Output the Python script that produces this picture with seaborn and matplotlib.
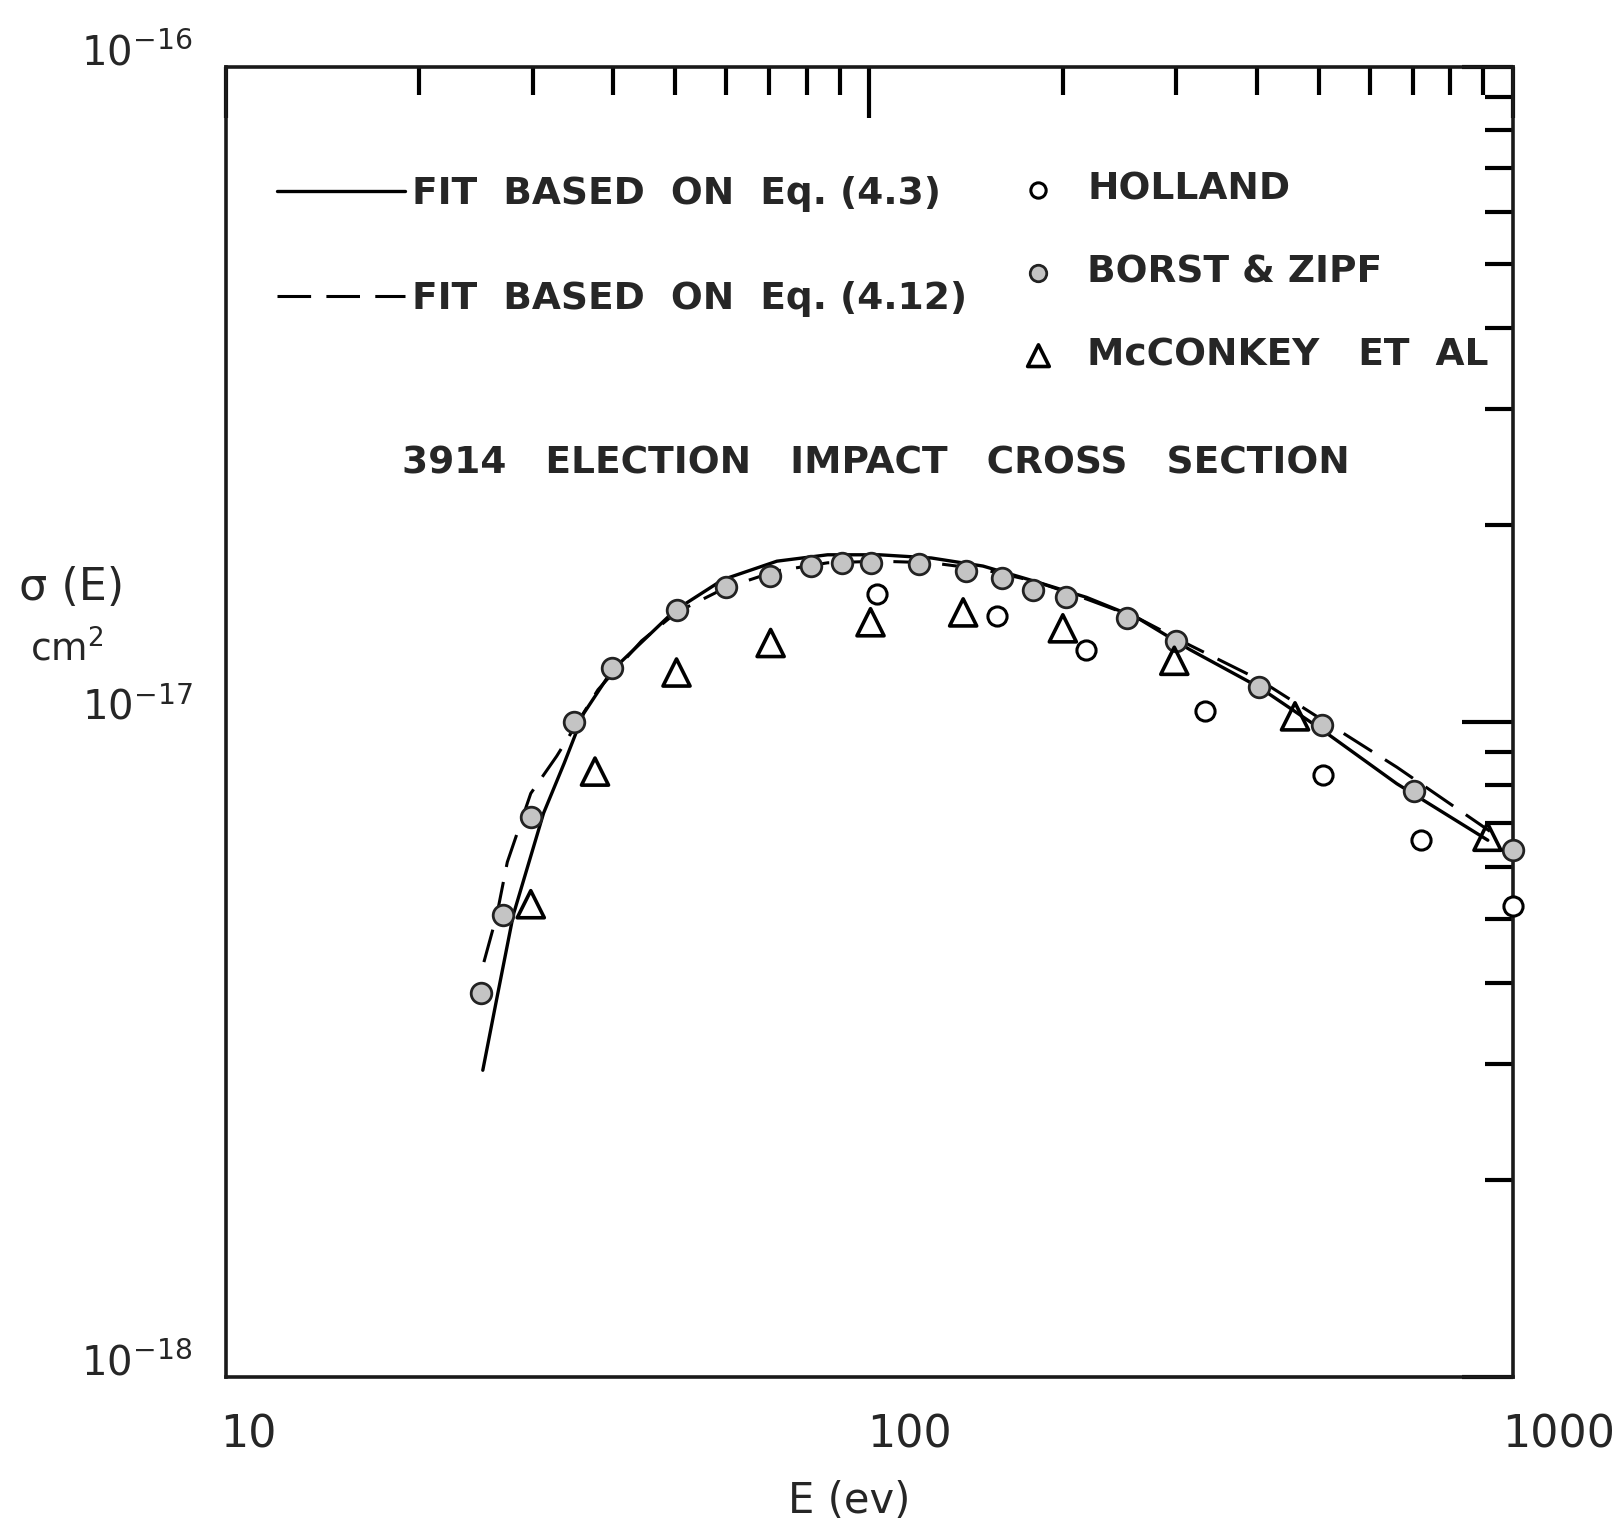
import matplotlib.pyplot as plt
import matplotlib.transforms as mtransforms
import seaborn as sns

# values: energy in ev, cross section in cm^2
fit43_e = [25.1, 26.4, 28.0, 31.2, 33.6, 36.0, 39.9, 49.9, 59.3, 71.9, 86.2, 103.8,
           124.9, 150.3, 180.8, 217.6, 261.8, 315.0, 403.7, 504, 660.7, 915]
fit43_sigma = [2.94e-18, 3.79e-18, 5.08e-18, 7.26e-18, 8.66e-18, 1.03e-17, 1.20e-17,
               1.48e-17, 1.65e-17, 1.76e-17, 1.80e-17, 1.80e-17, 1.78e-17, 1.73e-17,
               1.64e-17, 1.55e-17, 1.44e-17, 1.29e-17, 1.13e-17, 9.75e-18, 8.05e-18, 6.60e-18]

fit412_e = [25.2, 26.4, 27.4, 29.8, 32.7, 37.9, 44.3, 50.2, 59.6, 71.7, 86.2, 103.8,
            125, 150, 181, 218, 262, 315, 404, 504, 661, 922]
fit412_sigma = [4.30e-18, 5.08e-18, 6.11e-18, 7.78e-18, 8.87e-18, 1.12e-17, 1.33e-17,
                1.47e-17, 1.60e-17, 1.70e-17, 1.75e-17, 1.76e-17, 1.75e-17, 1.71e-17,
                1.64e-17, 1.54e-17, 1.44e-17, 1.31e-17, 1.16e-17, 1.01e-17, 8.53e-18, 6.81e-18]

holland_e = [103, 158, 217, 333, 508, 721, 1000]
holland_sigma = [1.57e-17, 1.45e-17, 1.29e-17, 1.04e-17, 8.3e-18, 6.6e-18, 5.23e-18]

borst_e = [24.9, 27.0, 29.8, 34.8, 39.8, 50.2, 60.0, 70.1, 81.1, 90.6, 100.7, 119.5,
           141.6, 161, 180, 202, 252, 300, 404, 505, 703, 1000]
borst_sigma = [3.86e-18, 5.08e-18, 7.16e-18, 1.0e-17, 1.21e-17, 1.48e-17, 1.61e-17,
               1.67e-17, 1.73e-17, 1.75e-17, 1.75e-17, 1.74e-17, 1.70e-17, 1.66e-17,
               1.59e-17, 1.55e-17, 1.44e-17, 1.33e-17, 1.13e-17, 9.9e-18, 7.85e-18, 6.38e-18]

mcconkey_e = [29.8, 37.5, 50.2, 70.3, 100.5, 140, 200, 298, 459, 914]
mcconkey_sigma = [5.27e-18, 8.4e-18, 1.19e-17, 1.32e-17, 1.42e-17, 1.47e-17, 1.39e-17,
                  1.24e-17, 1.02e-17, 6.68e-18]

x_ticks = [10, 100, 1000]
x_tick_labels = ['10', '100', '1000']
y_ticks = [1e-18, 1e-17, 1e-16]
y_tick_labels = [r'$\mathregular{10^{-18}}$', r'$\mathregular{10^{-17}}$', r'$\mathregular{10^{-16}}$']

sns.set_style('white')
plt.rcParams['font.family'] = ['DejaVu Sans']

fig = plt.figure(figsize=(16.23, 15.29), dpi=100)
ax = fig.add_axes([0.139, 0.0994, 0.793, 0.8568])
ax.set_xscale('log')
ax.set_yscale('log')

# fits
sns.lineplot(x=fit43_e, y=fit43_sigma, ax=ax, color='black', lw=2.4,
             estimator=None, sort=False, label='FIT  BASED  ON  Eq. (4.3)')
sns.lineplot(x=fit412_e, y=fit412_sigma, ax=ax, color='black', lw=2.2,
             estimator=None, sort=False, label='FIT  BASED  ON  Eq. (4.12)')
ax.lines[1].set_dashes((11, 5))

# measurements
sns.scatterplot(x=holland_e, y=holland_sigma, ax=ax, marker='o', s=190,
                facecolor='white', edgecolor='black', linewidth=2.2,
                label='HOLLAND', clip_on=False, zorder=4)
sns.scatterplot(x=borst_e, y=borst_sigma, ax=ax, marker='o', s=220,
                facecolor='#c4c4c4', edgecolor='#222222', linewidth=2.0,
                label='BORST & ZIPF', clip_on=False, zorder=4)
sns.scatterplot(x=mcconkey_e, y=mcconkey_sigma, ax=ax, marker='^', s=380,
                facecolor='none', edgecolor='black', linewidth=2.6,
                label='McCONKEY   ET  AL', clip_on=False, zorder=4)

ax.set_xlim(10, 1000)
ax.set_ylim(1e-18, 1e-16)

lettering = {'size': 27, 'weight': 'bold'}
handles, labels = ax.get_legend_handles_labels()
leg1 = ax.legend(handles[:2], labels[:2], loc='upper left', bbox_to_anchor=(0.040, 0.917),
                 frameon=False, prop=lettering, handlelength=3.4, handletextpad=0.2,
                 labelspacing=1.85, borderpad=0, borderaxespad=0)
ax.add_artist(leg1)
ax.legend(handles[2:], labels[2:], loc='upper left', bbox_to_anchor=(0.617, 0.92),
          frameon=False, prop=lettering, handlelength=1.0, handletextpad=0.8,
          labelspacing=1.25, borderpad=0, borderaxespad=0, markerscale=0.8)

ax.text(0.505, 0.697, '3914   ELECTION   IMPACT   CROSS   SECTION', transform=ax.transAxes,
        ha='center', va='center', fontsize=27, fontweight='bold')

# ticks
ax.set_xticks(x_ticks, x_tick_labels)
ax.set_yticks(y_ticks, y_tick_labels)
ax.tick_params(which='both', direction='in', top=True, right=True, color='black')
ax.tick_params(axis='x', which='major', length=37, width=3, pad=26, labelsize=32)
ax.tick_params(axis='y', which='major', length=37, width=3, pad=24, labelsize=29)
ax.tick_params(which='minor', length=20, width=3)
shifts = [0.23, 0.40, 0.46]
for lab, dx in zip(ax.get_xticklabels(), shifts):
    lab.set_transform(lab.get_transform() + mtransforms.ScaledTranslation(dx, 0, fig.dpi_scale_trans))
for lab in ax.get_yticklabels():
    lab.set_transform(lab.get_transform() + mtransforms.ScaledTranslation(0, 0.18, fig.dpi_scale_trans))

for sp in ax.spines.values():
    sp.set_linewidth(2.6)
    sp.set_color('#1a1a1a')

# axis labels
fig.text(72 / 1623, 1 - 588 / 1529, 'σ (E)', ha='center', va='center', fontsize=32)
fig.text(67 / 1623, 1 - 650 / 1529, r'cm$^2$', ha='center', va='center', fontsize=27)
fig.text(849 / 1623, 1 - 1501 / 1529, 'E (ev)', ha='center', va='center', fontsize=30)

fig.savefig('out.png', dpi=100)
